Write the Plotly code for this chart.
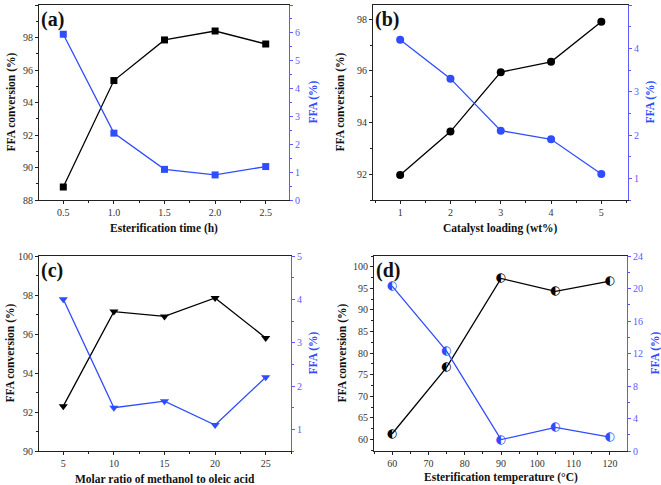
import plotly.graph_objects as go

# ---- data ----
time_h = [0.5, 1.0, 1.5, 2.0, 2.5]
time_conv = [88.8, 95.35, 97.85, 98.4, 97.6]
time_ffa = [5.95, 2.4, 1.1, 0.9, 1.2]

cat_load = [1, 2, 3, 4, 5]
cat_conv = [91.97, 93.65, 95.95, 96.35, 97.9]
cat_ffa = [4.2, 3.3, 2.1, 1.9, 1.1]

molar = [5, 10, 15, 20, 25]
molar_conv = [92.3, 97.15, 96.9, 97.85, 95.8]
molar_ffa = [4.0, 1.5, 1.65, 1.1, 2.2]

temp_c = [60, 75, 90, 105, 120]
temp_conv = [61.3, 76.7, 97.3, 94.3, 96.7]
temp_ffa = [20.3, 12.3, 1.4, 2.9, 1.7]

panel_labels = ["(a)", "(b)", "(c)", "(d)"]
x_titles = ["Esterification time (h)", "Catalyst loading (wt%)",
            "Molar ratio of methanol to oleic acid", "Esterification temperature (\u00b0C)"]
left_title = "FFA conversion (%)"
right_title = "FFA (%)"

BLACK = "#000000"
BLUE = "#2f4cff"
AXBLUE = "#5a5aff"
FONT = "Liberation Serif"
TICKC = "#333333"

W, H = 661, 485
def px_dom_x(a, b):
    return [a / W, b / W]
def px_dom_y(top, bottom):
    return [1 - bottom / H, 1 - top / H]

panels = [
    dict(x=time_h, c=time_conv, f=time_ffa, sym="square", dom_x=px_dom_x(39, 289), dom_y=px_dom_y(5, 200),
         xr=[0.26, 2.73], xdt=0.5, xfmt=".1f", lr=[88, 100], ldt=2, rr=[0, 7], rdt=1,
         lsh=-28, rsh=24, bsh=-29),
    dict(x=cat_load, c=cat_conv, f=cat_ffa, sym="circle", dom_x=px_dom_x(373, 628), dom_y=px_dom_y(5, 200),
         xr=[0.46, 5.53], xdt=1, xfmt="", lr=[91, 98.55], ldt=2, rr=[0.5, 5], rdt=1,
         lsh=-33, rsh=22, bsh=-29),
    dict(x=molar, c=molar_conv, f=molar_ffa, sym="triangle-down", dom_x=px_dom_x(39, 291), dom_y=px_dom_y(256, 451),
         xr=[2.6, 27.5], xdt=5, xfmt="", lr=[90, 100], ldt=2, rr=[0.5, 5], rdt=1,
         lsh=-29, rsh=22, bsh=-28),
    dict(x=temp_c, c=temp_conv, f=temp_ffa, sym="half", dom_x=px_dom_x(374, 627), dom_y=px_dom_y(256, 451),
         xr=[55, 124.7], xdt=10, xfmt="", lr=[57.3, 102.5], ldt=5, rr=[0, 24], rdt=4,
         lsh=-32, rsh=28, bsh=-26),
]

fig = go.Figure()
layout = dict(width=W, height=H, margin=dict(l=0, r=0, t=0, b=0, autoexpand=False),
              paper_bgcolor="white", plot_bgcolor="white", showlegend=False,
              font=dict(family=FONT, size=10, color=TICKC))
annotations = []

for i, p in enumerate(panels):
    n = i + 1
    xa = "x" if n == 1 else f"x{n}"
    ya = "y" if n == 1 else f"y{2*n-1}"
    yb = f"y{2*n}"
    xkey = "xaxis" if n == 1 else f"xaxis{n}"
    ykey = "yaxis" if n == 1 else f"yaxis{2*n-1}"
    ykey2 = f"yaxis{2*n}"

    if p["sym"] == "half":
        fig.add_trace(go.Scatter(x=p["x"], y=p["c"], mode="lines+text", text=["\u25d0"] * len(p["x"]),
                                 textposition="middle center",
                                 textfont=dict(family="DejaVu Sans", size=12, color=BLACK),
                                 line=dict(color=BLACK, width=1.3), xaxis=xa, yaxis=ya))
        fig.add_trace(go.Scatter(x=p["x"], y=p["f"], mode="lines+text", text=["\u25d0"] * len(p["x"]),
                                 textposition="middle center",
                                 textfont=dict(family="DejaVu Sans", size=12, color=BLUE),
                                 line=dict(color=BLUE, width=1.3), xaxis=xa, yaxis=yb))
    else:
        msize = 7 if p["sym"] == "square" else 8
        fig.add_trace(go.Scatter(x=p["x"], y=p["c"], mode="lines+markers",
                                 marker=dict(symbol=p["sym"], size=msize, color=BLACK),
                                 line=dict(color=BLACK, width=1.3), xaxis=xa, yaxis=ya))
        fig.add_trace(go.Scatter(x=p["x"], y=p["f"], mode="lines+markers",
                                 marker=dict(symbol=p["sym"], size=msize, color=BLUE),
                                 line=dict(color=BLUE, width=1.3), xaxis=xa, yaxis=yb))

    layout[xkey] = dict(domain=p["dom_x"], range=p["xr"], anchor=ya, dtick=p["xdt"], tick0=0,
                        tickformat=p["xfmt"], showline=True, linecolor="#222", linewidth=1.2, mirror=True,
                        ticks="outside", ticklen=3, tickcolor="#222", showgrid=False, zeroline=False,
                        minor=dict(ticks="outside", ticklen=2, tickcolor="#222", dtick=p["xdt"] / 2),
                        tickfont=dict(family=FONT, size=10, color=TICKC), automargin=False)
    layout[ykey] = dict(domain=p["dom_y"], range=p["lr"], anchor=xa, dtick=p["ldt"], tick0=0,
                        showline=True, linecolor="#222", linewidth=1.2, ticks="outside", ticklen=3,
                        tickcolor="#222", showgrid=False, zeroline=False,
                        minor=dict(ticks="outside", ticklen=2, tickcolor="#222", dtick=p["ldt"] / 2),
                        tickfont=dict(family=FONT, size=10, color=TICKC), automargin=False)
    layout[ykey2] = dict(domain=p["dom_y"], range=p["rr"], anchor=xa, overlaying=ya, side="right",
                         dtick=p["rdt"], tick0=0, showline=True, linecolor=AXBLUE, linewidth=1.2,
                         ticks="outside", ticklen=3, tickcolor=AXBLUE, showgrid=False, zeroline=False,
                         minor=dict(ticks="outside", ticklen=2, tickcolor=AXBLUE, dtick=p["rdt"] / 2),
                         tickfont=dict(family=FONT, size=10, color=AXBLUE), automargin=False)

    xd, yd = f"{xa} domain", f"{ya} domain"
    annotations += [
        dict(text=f"<b>{panel_labels[i]}</b>", xref=xd, yref=yd, x=0.0, y=0.995,
             xanchor="left", yanchor="top", showarrow=False,
             font=dict(family=FONT, size=20, color="#111")),
        dict(text=f"<b>{x_titles[i]}</b>", xref=xd, yref=yd, x=0.5, y=0, yshift=p["bsh"],
             xanchor="center", yanchor="middle", showarrow=False,
             font=dict(family=FONT, size=11.5, color="#111")),
        dict(text=f"<b>{left_title}</b>", xref=xd, yref=yd, x=0, y=0.5, xshift=p["lsh"], textangle=-90,
             xanchor="center", yanchor="middle", showarrow=False,
             font=dict(family=FONT, size=11.5, color="#111")),
        dict(text=f"<b>{right_title}</b>", xref=xd, yref=yd, x=1, y=0.5, xshift=p["rsh"], textangle=-90,
             xanchor="center", yanchor="middle", showarrow=False,
             font=dict(family=FONT, size=11.5, color=BLUE)),
    ]

layout["annotations"] = annotations
fig.update_layout(**layout)
fig.write_html("out.html", config={"displayModeBar": False},
               post_script="document.body.style.margin='0';document.body.style.padding='0';")
